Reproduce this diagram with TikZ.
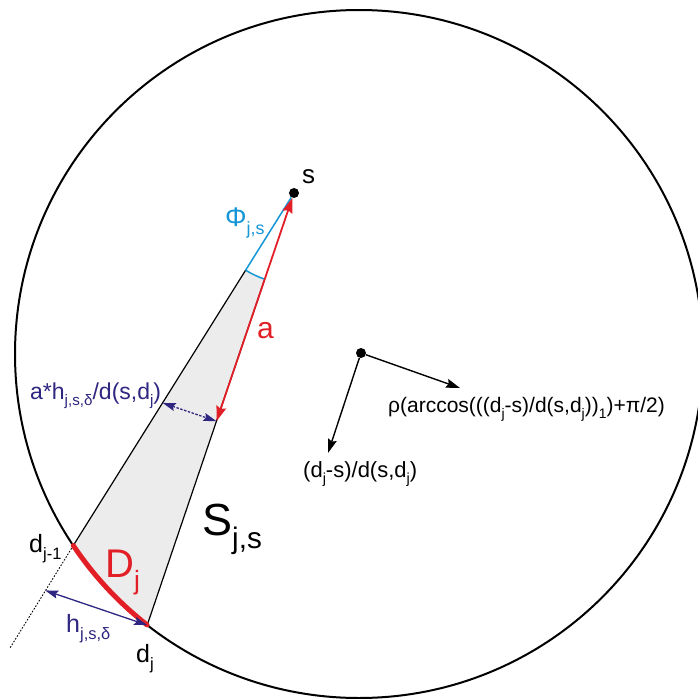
\documentclass[tikz,border=0pt]{standalone}
\usepackage{fontspec}
\setmainfont{Liberation Sans}
\usepackage{graphicx}
\usetikzlibrary{arrows.meta}
\definecolor{navy}{RGB}{46,38,128}
\definecolor{phiblue}{RGB}{20,150,215}
\definecolor{myred}{RGB}{226,31,38}
\definecolor{gfill}{RGB}{236,236,236}
\newcommand\lw[1]{\raisebox{-0.3em}{\scalebox{0.66}{#1}}}
\newcommand\fsz[1]{\fontsize{#1}{#1}\selectfont}
\begin{document}
\begin{tikzpicture}[x=1pt,y=1pt,yscale=-1,
  lbl/.style={inner sep=0pt, anchor=base west},
  dot/.style={circle, fill=black, inner sep=0pt, minimum size=10pt},
  edgeline/.style={line width=1.2pt, black},
  redarrow/.style={line width=1.8pt, myred, {Stealth[length=15pt,width=10pt,inset=2pt]}-{Stealth[length=15pt,width=10pt,inset=2pt]}},
  navyarrow/.style={line width=1.3pt, navy, {Stealth[length=13pt,width=8pt,inset=2pt]}-{Stealth[length=13pt,width=8pt,inset=2pt]}},
  blackarrow/.style={line width=1.4pt, black, -{Stealth[length=14pt,width=9pt,inset=2pt]}}]
\useasboundingbox (0,0) rectangle (698,699);
% key points
\coordinate (C) at (359,354);
\coordinate (L) at (245.7,270.1);
\coordinate (R) at (264.7,279.2);
\coordinate (dj1) at (73.3,545.5);
\coordinate (dj) at (147.2,625.1);
\coordinate (A) at (216.5,421.2);
\coordinate (B) at (162.6,402.9);
\coordinate (H) at (45.1,590.4);
\coordinate (E) at (10,648);
\coordinate (v1) at (460,388);
\coordinate (v2) at (328,453);
% gray sector
\fill[gfill] (L) -- (dj1) arc[start angle=146.17,end angle=128.04,radius=344] -- (R) arc[start angle=108.76,end angle=122.05,radius=91] -- cycle;
% circle
\draw[line width=2pt] (C) circle[radius=344];
% dots
\node[dot] (s) at (294,193) {};
\node[dot] (c) at (361,353) {};
% sector edges
\draw[edgeline] (L) -- (dj1);
\draw[edgeline] (R) -- (dj);
\draw[black, line width=0.9pt, dash pattern=on 1.6pt off 1.6pt] (dj1) -- (E);
\draw[phiblue, line width=1.5pt] (L) -- (s);
\draw[phiblue, line width=1.5pt] (R) arc[start angle=108.76,end angle=122.05,radius=91];
% red arc
\draw[myred, line width=5pt, line cap=round] (dj1) arc[start angle=146.17,end angle=128.04,radius=344];
% arrows
\draw[redarrow] (A) -- (s);
\draw[navyarrow, dash pattern=on 2.5pt off 1.5pt] (B) -- (A);
\draw[navyarrow] (H) -- (dj);
\draw[blackarrow] (c) -- (v1);
\draw[blackarrow] (c) -- (v2);
% labels
\node[lbl] (ls) at (302,183) {\fsz{26}s};
\node[lbl, text=phiblue] (lphi) at (225,226) {\fsz{27}Φ\lw{j,s}};
\node[lbl, text=myred] (la) at (257,338) {\fsz{30}a};
\node[lbl, text=navy] (lah) at (30,399) {\fsz{23}a*h\lw{j,s,δ}/d(s,d\lw{j})};
\node[lbl] (lS) at (202,535) {\fsz{45}S\lw{j,s}};
\node[lbl, text=myred] (lD) at (105,577) {\fsz{40}D\lw{j}};
\node[lbl] (ldj1) at (29,552) {\fsz{25}d\lw{j-1}};
\node[lbl, text=navy] (lh) at (66,632) {\fsz{25}h\lw{j,s,δ}};
\node[lbl] (ldj) at (136,662) {\fsz{25}d\lw{j}};
\node[lbl] (lrho) at (388,412) {\fsz{21}ρ(arccos(((d\lw{j}-s)/d(s,d\lw{j}))\lw{1})+π/2)};
\node[lbl] (ldir) at (303,477) {\fsz{22}(d\lw{j}-s)/d(s,d\lw{j})};
\end{tikzpicture}
\end{document}
